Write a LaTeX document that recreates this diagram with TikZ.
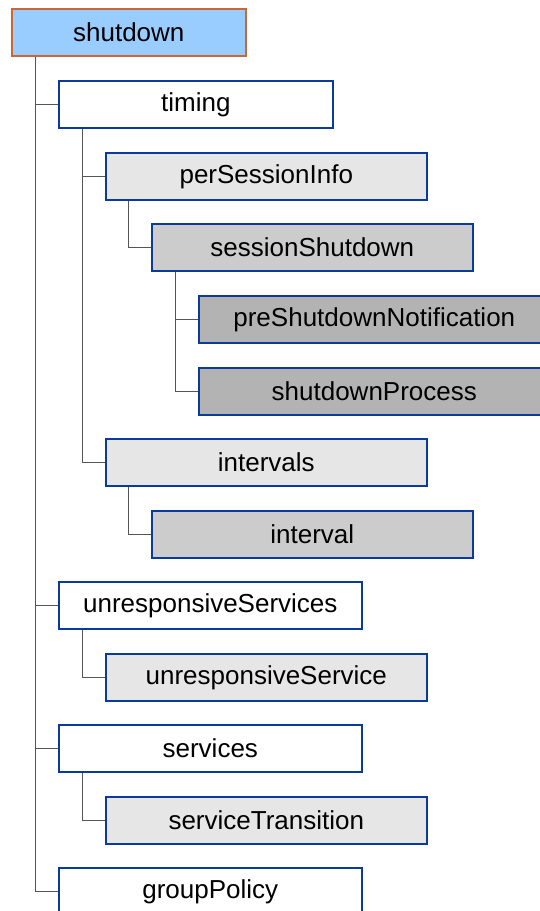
\documentclass[tikz,border=0pt]{standalone}
\usepackage{fontspec}
\setmainfont{Liberation Sans}
\definecolor{boxblue}{HTML}{0A3A9A}
\definecolor{rootfill}{HTML}{99CCFF}
\definecolor{rootedge}{HTML}{CC6633}
\definecolor{lvlA}{HTML}{E6E6E6}
\definecolor{lvlB}{HTML}{CCCCCC}
\definecolor{lvlC}{HTML}{B3B3B3}
\definecolor{linkgray}{HTML}{555555}
\tikzset{
  elem/.style={draw=boxblue, line width=1.6pt, minimum height=47pt, inner sep=0pt,
    font=\fontsize{26}{30}\selectfont, anchor=north west},
  rootbox/.style={elem, draw=rootedge, fill=rootfill},
  plain/.style={elem, fill=white},
  greyA/.style={elem, fill=lvlA},
  greyB/.style={elem, fill=lvlB},
  greyC/.style={elem, fill=lvlC},
  link/.style={draw=linkgray, line width=1pt},
}
\begin{document}
\begin{tikzpicture}[x=1pt, y=-1pt]
\useasboundingbox (0,0) rectangle (540,911);
\begin{scope}
\clip (0,0) rectangle (540,911);
% boxes: top-left corner, width
\node[rootbox, minimum width=234pt] (shutdown) at (11,8) {shutdown};
\node[plain, minimum width=274pt] (timing) at (58,80) {timing};
\node[greyA, minimum width=321pt] (psi) at (105,152) {perSessionInfo};
\node[greyB, minimum width=321pt] (sess) at (151,223) {sessionShutdown};
\node[greyC, minimum width=351pt] (pre) at (198,295) {preShutdownNotification};
\node[greyC, minimum width=351pt] (proc) at (198,367) {shutdownProcess};
\node[greyA, minimum width=321pt] (intervals) at (105,438) {intervals};
\node[greyB, minimum width=321pt] (interval) at (151,510) {interval};
\node[plain, minimum width=303pt] (unrs) at (58,581) {unresponsiveServices};
\node[greyA, minimum width=321pt] (unr) at (105,653) {unresponsiveService};
\node[plain, minimum width=303pt] (services) at (58,724) {services};
\node[greyA, minimum width=321pt] (trans) at (105,796) {serviceTransition};
\node[plain, minimum width=303pt] (group) at (58,867) {groupPolicy};

% tree connectors: vertical spine below each parent, stub into each child
\draw[link] (shutdown.south west) ++(24,0) |- (timing.west);
\draw[link] (shutdown.south west) ++(24,0) |- (unrs.west);
\draw[link] (shutdown.south west) ++(24,0) |- (services.west);
\draw[link] (shutdown.south west) ++(24,0) |- (group.west);
\draw[link] (timing.south west) ++(24,0) |- (psi.west);
\draw[link] (timing.south west) ++(24,0) |- (intervals.west);
\draw[link] (psi.south west) ++(23,0) |- (sess.west);
\draw[link] (sess.south west) ++(24,0) |- (pre.west);
\draw[link] (sess.south west) ++(24,0) |- (proc.west);
\draw[link] (intervals.south west) ++(23,0) |- (interval.west);
\draw[link] (unrs.south west) ++(24,0) |- (unr.west);
\draw[link] (services.south west) ++(24,0) |- (trans.west);
\end{scope}
\end{tikzpicture}
\end{document}
